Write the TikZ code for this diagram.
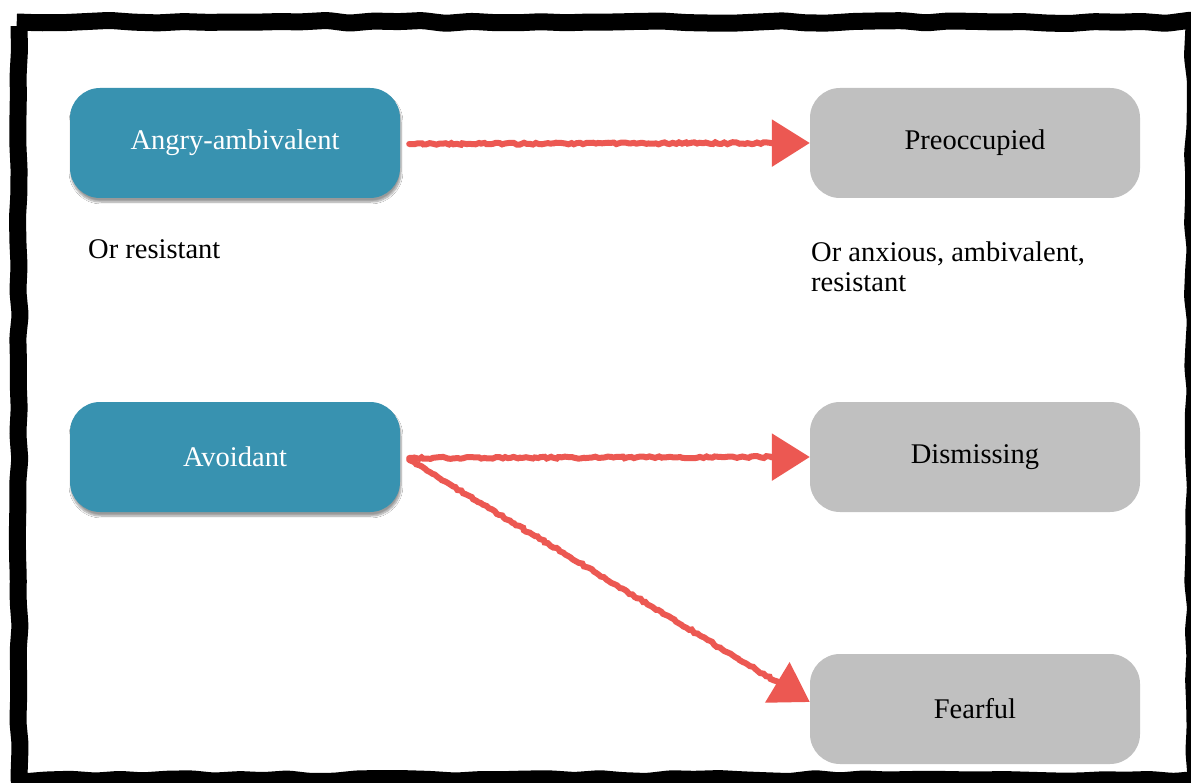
\documentclass[tikz,border=0pt]{standalone}
\usepackage{fontspec}
\setmainfont{Liberation Serif}
\usetikzlibrary{arrows.meta,decorations.pathmorphing,shadows.blur,calc}

\definecolor{tealbox}{RGB}{56,146,176}
\definecolor{greybox}{RGB}{192,192,192}
\definecolor{arrowred}{RGB}{236,88,82}

\begin{document}
\begin{tikzpicture}[x=1pt,y=-1pt,
  every node/.style={font=\fontsize{28.5}{30}\selectfont},
  bluebox/.style={rounded corners=30pt, fill=tealbox, minimum width=330pt,
    minimum height=110pt, text=white, inner sep=0pt,
    blur shadow={shadow xshift=1pt, shadow yshift=-4pt, shadow blur steps=8, shadow opacity=40}},
  greybox/.style={rounded corners=30pt, fill=greybox, minimum width=330pt,
    minimum height=110pt, text=black, inner sep=0pt},
  note/.style={align=left, inner sep=0pt, text=black},
  sketchline/.style={draw=arrowred, line width=6pt, line cap=round,
    decorate, decoration={random steps, segment length=3pt, amplitude=1pt}},
  sketchtip/.style={draw=arrowred, line width=6pt, -{Triangle[length=38pt,width=46pt]}},
  frame/.style={draw=black, line width=17pt, line join=round, rounded corners=4pt,
    decorate, decoration={random steps, segment length=24pt, amplitude=1.6pt}}
]
\useasboundingbox (0,0) rectangle (1191,783);
\fill[white] (0,0) rectangle (1191,783);

% hand-drawn frame
\draw[frame] (19,22) rectangle (1194,780);

% attachment styles in childhood
\node[bluebox] (angry) at (235,143) {Angry-ambivalent};
\node[bluebox] (avoid) at (235,457) {Avoidant};

% adult attachment styles
\node[greybox] (preocc) at (975,143) {Preoccupied};
\node[greybox] (dismiss) at (975,457) {Dismissing};
\node[greybox] (fear) at (975,709) {Fearful};

% alternative names
\node[note, anchor=base west] (altangry) at (88,259) {Or resistant};
\node[note, anchor=base west] (altpre) at (811,292) {Or anxious, ambivalent,\\resistant};

% end points of the continuity arrows
\coordinate (s1) at ($(angry.east)+(9,1)$);
\coordinate (t1) at (preocc.west);
\coordinate (s2) at ($(avoid.east)+(9,1)$);
\coordinate (t2) at (dismiss.west);
\coordinate (s3) at ($(avoid.east)+(9,3)$);
\coordinate (t3) at ($(fear.west)+(0,-7)$);

% continuity arrows: wobbly shaft, straight tip
\draw[sketchline] (s1) -- ($(t1)!30pt!(s1)$);
\draw[sketchtip] ($(t1)!34pt!(s1)$) -- (t1);
\draw[sketchline] (s2) -- ($(t2)!30pt!(s2)$);
\draw[sketchtip] ($(t2)!34pt!(s2)$) -- (t2);
\draw[sketchline] (s3) -- ($(t3)!30pt!(s3)$);
\draw[sketchtip] ($(t3)!34pt!(s3)$) -- (t3);
\end{tikzpicture}
\end{document}
